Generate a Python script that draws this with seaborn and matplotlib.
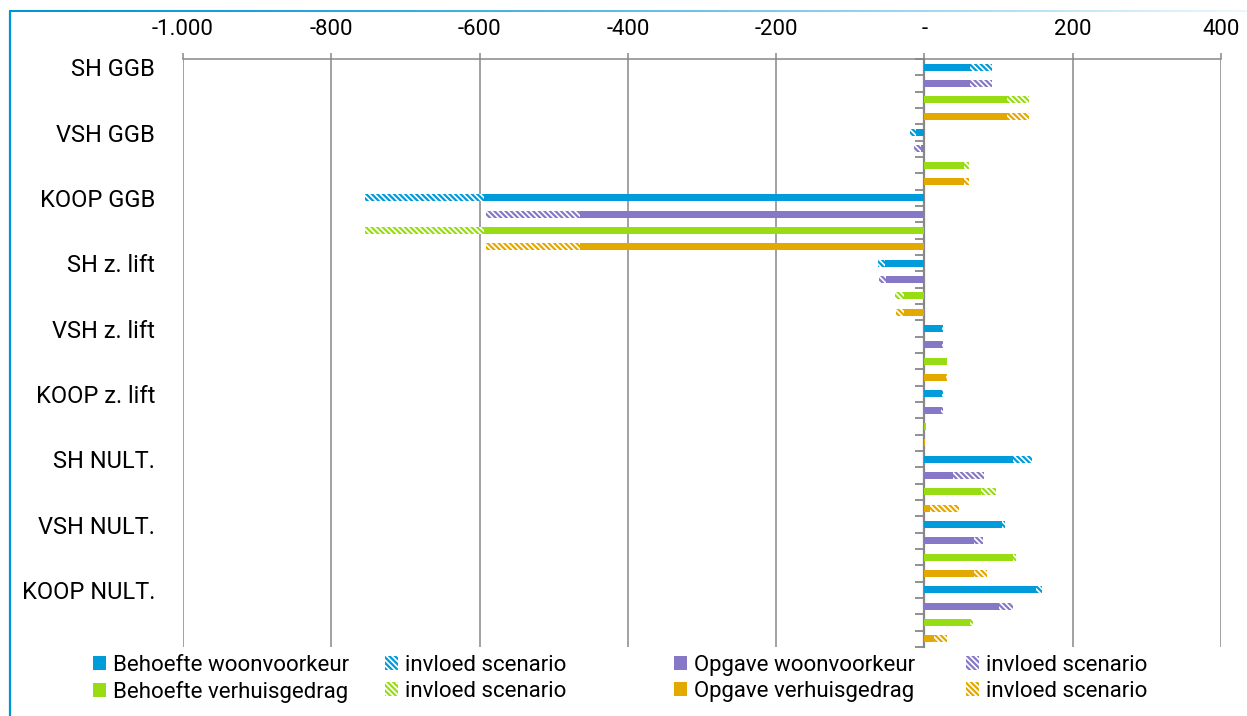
import numpy as np
import pandas as pd
import matplotlib
matplotlib.use("Agg")
import matplotlib.pyplot as plt
from matplotlib.patches import Patch
import seaborn as sns

# --- data -------------------------------------------------------------
categories = ["SH GGB", "VSH GGB", "KOOP GGB", "SH z. lift", "VSH z. lift",
              "KOOP z. lift", "SH NULT.", "VSH NULT.", "KOOP NULT."]
series = ["Behoefte woonvoorkeur", "Opgave woonvoorkeur",
          "Behoefte verhuisgedrag", "Opgave verhuisgedrag"]

# base values per series (solid part)
behoefte_woon = [62, -11, -594, -53, 24, 24, 120, 104, 150]
opgave_woon = [62, -4, -465, -52, 24, 23, 39, 67, 101]
behoefte_verh = [111, 54, -594, -28, 30, 1.5, 76, 119, 61]
opgave_verh = [111, 54, -465, -27, 29, 1, 8, 67, 13]

# extra effect of the scenario (hatched part)
behoefte_woon_scen = [29, -8, -161, -9, 1.5, 1.5, 25, 5, 8]
opgave_woon_scen = [29, -10, -126, -9, 1, 1.5, 41, 12, 18]
behoefte_verh_scen = [30, 6, -161, -12, 1, 0.5, 21, 5, 5]
opgave_verh_scen = [30, 6, -126, -12, 1.5, 0, 38, 17, 17]

x_ticks = [-1000, -800, -600, -400, -200, 0, 200, 400]
x_tick_labels = ["-1.000", "-800", "-600", "-400", "-200", "-", "200", "400"]

colors = ["#009BDB", "#8777C7", "#98DC14", "#E4A900"]
scen_label = "invloed scenario"

# --- long table: one row per bar --------------------------------------
basis = [behoefte_woon, opgave_woon, behoefte_verh, opgave_verh]
scen = [behoefte_woon_scen, opgave_woon_scen, behoefte_verh_scen, opgave_verh_scen]
records = []
for i, cat in enumerate(categories):
    for j, s in enumerate(series):
        records.append({
            "rij": f"{cat} | {s}",
            "reeks": s,
            "basis": basis[j][i],
            "totaal": basis[j][i] + scen[j][i],
        })
df = pd.DataFrame(records)
rows = list(df["rij"])

# --- style ------------------------------------------------------------
sns.set_theme(style="white")
plt.rcParams["font.family"] = ["Roboto", "DejaVu Sans"]
plt.rcParams["text.color"] = "black"
plt.rcParams["xtick.labelcolor"] = "black"
plt.rcParams["ytick.labelcolor"] = "black"
plt.rcParams["hatch.linewidth"] = 1.6
grey = "#888888"
fs = 16

fig = plt.figure(figsize=(12.47, 7.16), dpi=100)
W, H = 1247, 716
ax = fig.add_axes([183 / W, 1 - 647 / H, (1221 - 183) / W, (647 - 59) / H])

palette = dict(zip(series, colors))
hatch = "\\" * 6

# hatched totals underneath
n0 = len(ax.patches)
sns.barplot(data=df, x="totaal", y="rij", hue="reeks", order=rows,
            hue_order=series, palette=palette, dodge=False, width=0.44,
            orient="h", legend=False, ax=ax, saturation=1, zorder=2)
for p in ax.patches[n0:]:
    c = p.get_facecolor()
    p.set_facecolor("white")
    p.set_edgecolor(c)
    p.set_hatch(hatch)
    p.set_linewidth(0)

# solid base on top
sns.barplot(data=df, x="basis", y="rij", hue="reeks", order=rows,
            hue_order=series, palette=palette, dodge=False, width=0.44,
            orient="h", legend=False, ax=ax, saturation=1, zorder=3,
            linewidth=0)

ax.set_xlim(-1000, 400)
ax.set_ylim(len(rows) - 0.5, -0.5)
ax.set_xlabel("")
ax.set_ylabel("")

# x axis on top
ax.xaxis.tick_top()
ax.set_xticks(x_ticks)
ax.set_xticklabels(x_tick_labels, fontsize=fs)
ax.tick_params(axis="x", which="major", top=True, bottom=False, length=4.5,
               width=1.1, color=grey, pad=9, labelcolor="black")
ax.grid(axis="x", color=grey, lw=1.1, zorder=0)
ax.grid(axis="y", visible=False)
ax.set_axisbelow(True)

# category labels on the left
ax.set_yticks(np.arange(0, len(rows), 4))
ax.set_yticklabels(categories, fontsize=17)
ax.tick_params(axis="y", length=0, pad=20, labelcolor="black")

for side in ["left", "right", "bottom"]:
    ax.spines[side].set_visible(False)
ax.spines["top"].set_color(grey)
ax.spines["top"].set_linewidth(1.1)

# value axis at zero with separators between the bars
zero_axis = ax.secondary_yaxis(1000 / 1400)
zero_axis.set_alignment("left")
zero_axis.set_yticks(np.arange(-0.5, len(rows), 1.0))
zero_axis.set_yticklabels([])
zero_axis.tick_params(axis="y", length=6.5, width=1.3, color=grey, direction="out")
zero_axis.spines["left"].set_color(grey)
zero_axis.spines["left"].set_linewidth(1.6)

# legends: four columns, two entries each
cols = [
    ([Patch(facecolor=colors[0], lw=0), Patch(facecolor=colors[2], lw=0)],
     [series[0], series[2]], 93),
    ([Patch(facecolor="white", edgecolor=colors[0], hatch=hatch, lw=0),
      Patch(facecolor="white", edgecolor=colors[2], hatch=hatch, lw=0)],
     [scen_label, scen_label], 385),
    ([Patch(facecolor=colors[1], lw=0), Patch(facecolor=colors[3], lw=0)],
     [series[1], series[3]], 674),
    ([Patch(facecolor="white", edgecolor=colors[1], hatch=hatch, lw=0),
      Patch(facecolor="white", edgecolor=colors[3], hatch=hatch, lw=0)],
     [scen_label, scen_label], 966),
]
for handles, labels, x0 in cols:
    fig.legend(handles, labels, loc="upper left",
               bbox_to_anchor=(x0 / W, 1 - 655 / H), frameon=False,
               fontsize=fs, handlelength=0.6, handleheight=0.6,
               handletextpad=0.32, labelspacing=0.22, borderpad=0,
               borderaxespad=0, labelcolor="black")

# frame lines: solid blue on the left, fading blue along the top
blue = np.array([0, 150, 214]) / 255
fig.add_artist(plt.Line2D([10 / W, 10 / W], [1 - 11 / H, 0], color=blue,
                          lw=1.6, transform=fig.transFigure))
band = fig.add_axes([9 / W, 1 - 12.5 / H, 1 - 9 / W, 2.5 / H])
t = np.linspace(0, 1, 400) ** 1.3
grad = blue[None, :] * (1 - t[:, None]) + np.array([0.93, 0.97, 0.99])[None, :] * t[:, None]
band.imshow(grad[None, :, :], aspect="auto", interpolation="bilinear")
band.set_axis_off()

fig.savefig("out.png", dpi=100)
